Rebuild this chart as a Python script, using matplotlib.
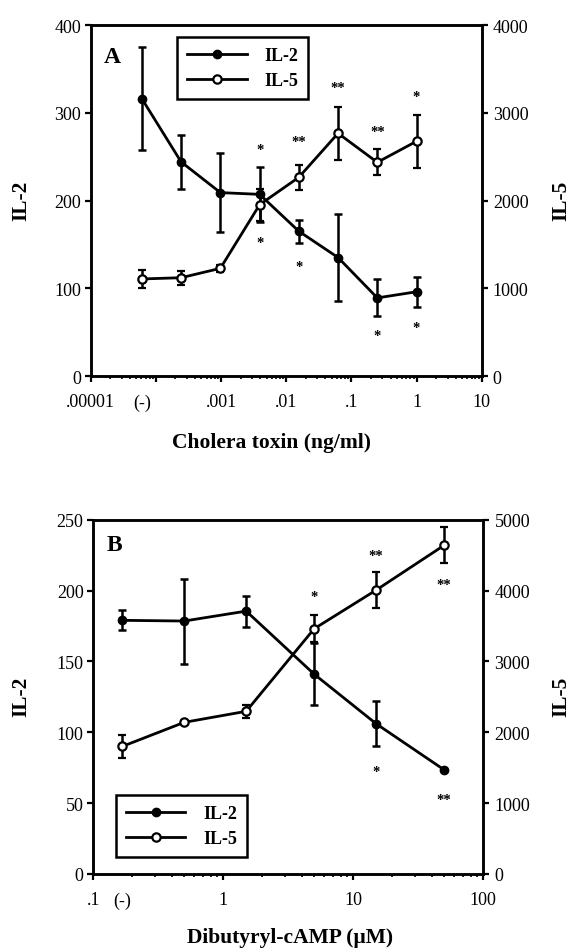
import numpy as np
import matplotlib
matplotlib.use("Agg")
import matplotlib.pyplot as plt
from matplotlib.ticker import NullFormatter, LogLocator, FixedLocator
from matplotlib.lines import Line2D

plt.rcParams['font.family'] = ['Liberation Serif', 'DejaVu Serif']

# ---------------- data ----------------
# Panel A: cholera toxin (ng/ml); first point is the control "(-)"
ct_dose = [6.1e-5, 2.44e-4, 9.77e-4, 3.91e-3, 1.56e-2, 6.25e-2, 0.25, 1.0]
ct_il2 = [316, 244, 209, 207, 165, 135, 89, 96]
ct_il2_err = [59, 31, 45, 31, 13, 50, 21, 17]
ct_il5 = [1106, 1120, 1227, 1952, 2264, 2766, 2435, 2675]
ct_il5_err = [100, 80, 40, 180, 145, 305, 150, 300]
ct_star_x = [3.91e-3, 3.91e-3, 1.56e-2, 1.56e-2, 6.25e-2, 0.25, 0.25, 1.0, 1.0]
ct_star_y = [262, 156, 271, 129, 333, 283, 50, 323, 59]
ct_star_txt = ['*', '*', '**', '*', '**', '**', '*', '*', '*']
ct_ticks = [1e-5, 6.1e-5, 1e-4, 1e-3, 1e-2, 1e-1, 1, 10]
ct_ticklabels = ['.00001', '(-)', '', '.001', '.01', '.1', '1', '10']

# Panel B: dibutyryl-cAMP (uM); first point is the control "(-)"
cb_dose = [0.167, 0.5, 1.5, 5, 15, 50]
cb_il2 = [179, 178.5, 185.5, 141, 106, 73.5]
cb_il2_err = [7, 30, 11, 22, 16, 0]
cb_il5 = [1800, 2140, 2296, 3461, 4007, 4639]
cb_il5_err = [165, 0, 90, 190, 260, 255]
cb_star_x = [5, 15, 15, 50, 50]
cb_star_y = [198, 227, 75, 207, 55]
cb_star_txt = ['*', '**', '*', '**', '**']
cb_ticks = [0.1, 0.167, 1, 10, 100]
cb_ticklabels = ['.1', '(-)', '1', '10', '100']

W, H = 574, 953
fig = plt.figure(figsize=(W / 100, H / 100), dpi=100)

LW = 2.0
MS = 6


def panel(rect, dose, il2, il2e, il5, il5e, sx, sy, st, ticks, ticklabels, ctrl,
          xlim, yl, yr, yl_ticks, yr_ticks, letter, letter_y, legend_anchor):
    ax = fig.add_axes(rect)
    ax2 = ax.twinx()
    ax.set_xscale('log')
    ax.set_xlim(*xlim)
    ax.set_ylim(0, yl)
    ax2.set_ylim(0, yr)
    ax.set_yticks(yl_ticks)
    ax2.set_yticks(yr_ticks)
    ax.xaxis.set_major_locator(FixedLocator(ticks))
    ax.set_xticklabels(ticklabels)
    ax.xaxis.set_minor_locator(LogLocator(base=10, subs=np.arange(2, 10), numticks=20))
    ax.xaxis.set_minor_formatter(NullFormatter())
    for t in ax.xaxis.get_major_ticks():
        if abs(t.get_loc() - ctrl) / ctrl < 1e-6:
            t.tick1line.set_visible(False)
    for a in (ax, ax2):
        for s in a.spines.values():
            s.set_linewidth(1.8)
    ax.tick_params(axis='x', which='major', direction='out', length=4.5, width=1.6,
                   labelsize=13, pad=8)
    ax.tick_params(axis='x', which='minor', direction='out', length=2.5, width=1.2)
    ax.tick_params(axis='y', direction='out', length=4, width=1.6, labelsize=13, pad=3)
    ax2.tick_params(axis='y', direction='out', length=4, width=1.6, labelsize=13, pad=4)

    ax.errorbar(dose, il2, yerr=il2e, fmt='-o', color='black', lw=LW, ms=MS,
                mfc='black', mec='black', elinewidth=1.8, capsize=3, capthick=1.8,
                zorder=3, clip_on=False)
    ax2.errorbar(dose, il5, yerr=il5e, fmt='-o', color='black', lw=LW, ms=MS,
                 mfc='white', mec='black', mew=1.6, elinewidth=1.8, capsize=3,
                 capthick=1.8, zorder=3, clip_on=False)
    for x, y, s in zip(sx, sy, st):
        ax.annotate(s, (x, y), xytext=(0, -5), textcoords='offset points',
                    ha='center', va='baseline', fontsize=10.5, fontweight='bold')

    ax.text(0.055, letter_y, letter, transform=ax.transAxes,
            ha='center', va='center', fontsize=17, fontweight='bold')

    h1 = Line2D([], [], color='black', lw=LW, marker='o', ms=MS, mfc='black', mec='black')
    h2 = Line2D([], [], color='black', lw=LW, marker='o', ms=MS, mfc='white', mec='black', mew=1.6)
    leg = ax2.legend([h1, h2], ['IL-2', 'IL-5'], loc='upper left',
                     bbox_to_anchor=legend_anchor, bbox_transform=ax.transAxes,
                     fancybox=False, framealpha=1, edgecolor='black',
                     prop={'family': 'Liberation Serif', 'weight': 'bold', 'size': 13},
                     handlelength=3.3, handletextpad=1.0, borderpad=0.55,
                     labelspacing=0.45, borderaxespad=0)
    leg.get_frame().set_linewidth(1.8)
    return ax, ax2


# Panel A: axes px left 90.7, right 481.7, top 26, bottom 377
axA = panel([90.7 / W, 1 - 377 / H, 391 / W, 351 / H],
            ct_dose, ct_il2, ct_il2_err, ct_il5, ct_il5_err,
            ct_star_x, ct_star_y, ct_star_txt, ct_ticks, ct_ticklabels, ct_dose[0],
            (1e-5, 10), 400, 4000, [0, 100, 200, 300, 400],
            [0, 1000, 2000, 3000, 4000], 'A', 0.91, (0.221, 0.966))

# Panel B: axes px left 93.3, right 483.3, top 520.7, bottom 875
axB = panel([93.3 / W, 1 - 875 / H, 390 / W, 354.3 / H],
            cb_dose, cb_il2, cb_il2_err, cb_il5, cb_il5_err,
            cb_star_x, cb_star_y, cb_star_txt, cb_ticks, cb_ticklabels, cb_dose[0],
            (0.1, 100), 250, 5000, [0, 50, 100, 150, 200, 250],
            [0, 1000, 2000, 3000, 4000, 5000], 'B', 0.93, (0.058, 0.223))

lab = dict(fontsize=15.5, fontweight='bold', ha='center', va='center')
fig.text(21.7 / W, 1 - 201 / H, 'IL-2', rotation=90, **lab)
fig.text(561 / W, 1 - 201 / H, 'IL-5', rotation=90, **lab)
fig.text(271 / W, 1 - 443 / H, 'Cholera toxin (ng/ml)', **lab)
fig.text(21.7 / W, 1 - 697 / H, 'IL-2', rotation=90, **lab)
fig.text(561 / W, 1 - 697 / H, 'IL-5', rotation=90, **lab)
fig.text(290 / W, 1 - 938 / H, 'Dibutyryl-cAMP (\u00b5M)', **lab)

fig.savefig('out.png', dpi=100, facecolor='white')
